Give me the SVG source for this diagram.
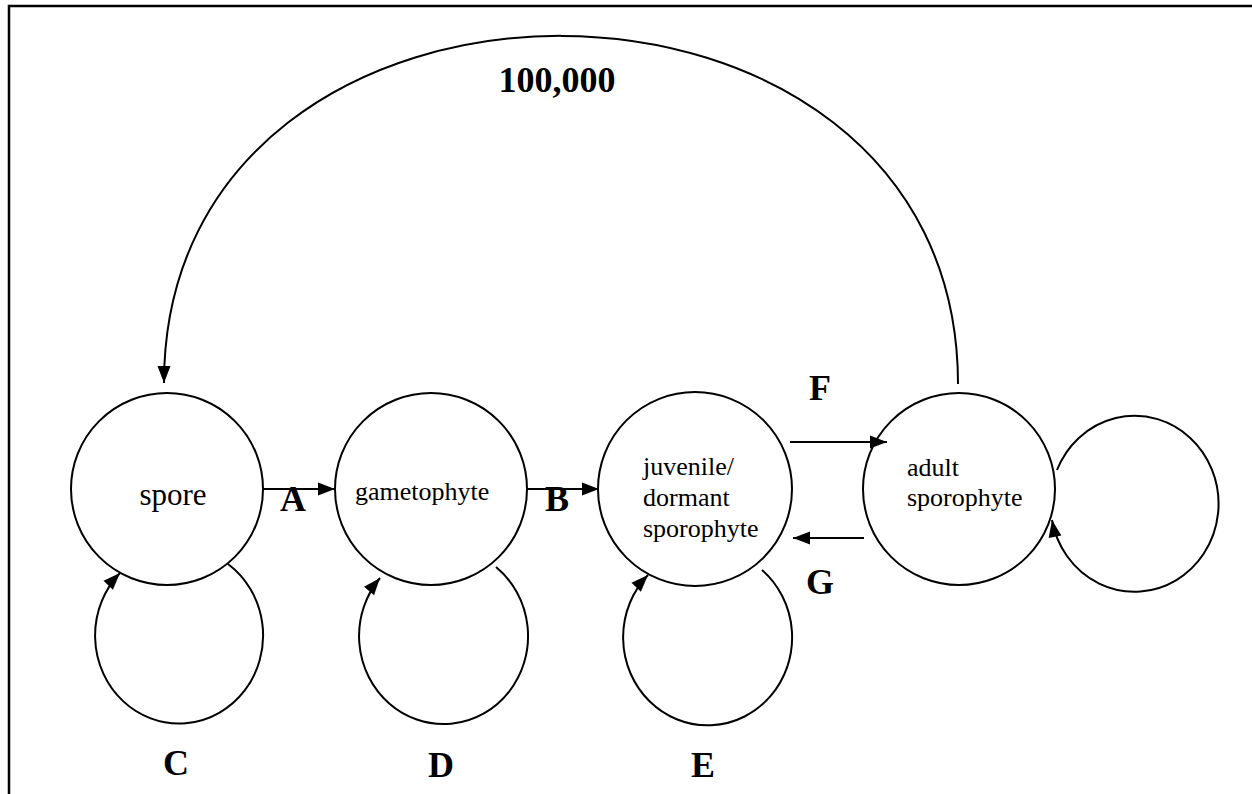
<svg xmlns="http://www.w3.org/2000/svg" width="1252" height="794" viewBox="0 0 1252 794">
<style>
.node{fill:none;stroke:#000;stroke-width:2}
.edge{fill:none;stroke:#000;stroke-width:2}
.t{font-family:"Liberation Serif","Times New Roman",Tinos,"Noto Serif","DejaVu Serif",serif;font-size:26px;font-weight:normal;fill:#000}
.lbl{font-family:"Liberation Serif","Times New Roman",Tinos,"Noto Serif","DejaVu Serif",serif;font-size:36px;font-weight:bold;fill:#000;text-anchor:middle}
</style>
<defs>
<marker id="ah" markerUnits="userSpaceOnUse" markerWidth="18" markerHeight="14" refX="17" refY="6.5" orient="auto" overflow="visible">
<path d="M0,0 L17,6.5 L0,13 z" fill="#000"/>
</marker>
</defs>
<rect width="1252" height="794" fill="#fff"/>
<path d="M9,794 V6 H1252" fill="none" stroke="#000" stroke-width="2.5"/>
<g id="spore"><circle class="node" cx="167" cy="489" r="96"/><text class="t" x="173" y="505" text-anchor="middle" style="font-size:31px">spore</text></g>
<g id="gametophyte"><circle class="node" cx="431" cy="489" r="96"/><text class="t" x="355" y="500">gametophyte</text></g>
<g id="juvenile"><circle class="node" cx="695" cy="489" r="97"/><text class="t" x="643" y="475">juvenile/</text><text class="t" x="643" y="506">dormant</text><text class="t" x="643" y="537">sporophyte</text></g>
<g id="adult"><circle class="node" cx="959" cy="489" r="96"/><text class="t" x="907" y="476">adult</text><text class="t" x="907" y="506">sporophyte</text></g>
<g id="connectors">
<path class="edge" d="M958,384 C958,-80 164,-80 164,383" marker-end="url(#ah)"/>
<path class="edge" d="M263,489 H335" marker-end="url(#ah)"/>
<path class="edge" d="M527,489 H599" marker-end="url(#ah)"/>
<path class="edge" d="M790,442 H887" marker-end="url(#ah)"/>
<path class="edge" d="M864,538 H793" marker-end="url(#ah)"/>
<path class="edge" d="M228,564 A84,88 0 1 1 120,573" marker-end="url(#ah)"/>
<path class="edge" d="M496,567 A84.5,88 0 1 1 380,578" marker-end="url(#ah)"/>
<path class="edge" d="M762,570 A84.5,88 0 1 1 648,575" marker-end="url(#ah)"/>
<path class="edge" d="M1057,470 A84,88 0 1 1 1052,520" marker-end="url(#ah)"/>
</g>
<g id="labels">
<text class="lbl" x="557" y="92">100,000</text>
<text class="lbl" x="293" y="511">A</text>
<text class="lbl" x="557" y="511">B</text>
<text class="lbl" x="176" y="775">C</text>
<text class="lbl" x="441" y="777">D</text>
<text class="lbl" x="703" y="777">E</text>
<text class="lbl" x="820" y="400">F</text>
<text class="lbl" x="820" y="594">G</text>
</g>
</svg>
